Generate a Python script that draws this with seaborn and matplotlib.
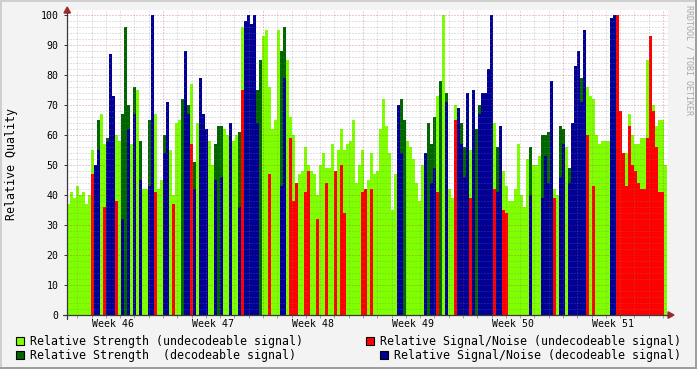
import numpy as np
import pandas as pd
import matplotlib
matplotlib.use("Agg")
import matplotlib.pyplot as plt
import seaborn as sns
from matplotlib.patches import Rectangle, Polygon
from matplotlib.lines import Line2D

# ---------------- data (one sample every ~5 hours) ----------------
strength = [37, 41, 39, 43, 40, 41, 37, 40, 55, 0,
            65, 67, 57, 59, 76, 60, 60, 58, 67, 96,
            70, 57, 76, 75, 58, 42, 42, 65, 95, 67,
            42, 45, 60, 67, 55, 40, 64, 65, 72, 69,
            70, 77, 51, 64, 75, 60, 55, 58, 50, 57,
            63, 63, 62, 60, 50, 58, 60, 61, 96, 80,
            80, 72, 75, 75, 85, 93, 95, 76, 62, 65,
            95, 88, 96, 85, 66, 60, 44, 47, 48, 56,
            50, 48, 47, 40, 50, 54, 49, 49, 57, 48,
            55, 62, 55, 57, 58, 65, 44, 50, 55, 38,
            45, 54, 47, 48, 62, 72, 63, 54, 35, 47,
            57, 72, 65, 58, 56, 52, 44, 38, 50, 43,
            64, 57, 66, 73, 78, 100, 74, 42, 39, 70,
            56, 64, 56, 60, 55, 59, 62, 70, 68, 62,
            70, 88, 64, 56, 56, 48, 43, 38, 38, 42,
            57, 40, 36, 52, 56, 50, 50, 53, 60, 60,
            61, 60, 42, 40, 63, 62, 56, 49, 57, 73,
            72, 79, 60, 76, 73, 72, 60, 57, 58, 58,
            58, 97, 97, 100, 61, 45, 54, 67, 60, 57,
            57, 59, 59, 85, 75, 70, 63, 65, 65, 50]

decoded = [0, 0, 0, 0, 0, 0, 0, 0, 0, 1,
           1, 0, 0, 1, 1, 1, 0, 0, 1, 1,
           1, 0, 1, 0, 1, 0, 0, 1, 1, 0,
           0, 0, 1, 1, 0, 0, 0, 0, 1, 1,
           1, 0, 1, 0, 1, 1, 1, 0, 0, 1,
           1, 1, 0, 0, 1, 0, 0, 1, 0, 1,
           1, 1, 1, 1, 1, 0, 0, 0, 0, 0,
           0, 1, 1, 0, 0, 0, 0, 0, 0, 0,
           0, 0, 0, 0, 0, 0, 0, 0, 0, 0,
           0, 0, 0, 0, 0, 0, 0, 0, 0, 0,
           0, 0, 0, 0, 0, 0, 0, 0, 0, 0,
           1, 1, 1, 0, 0, 0, 0, 0, 0, 1,
           1, 1, 1, 0, 1, 0, 1, 0, 0, 0,
           1, 1, 1, 1, 0, 1, 1, 1, 1, 1,
           1, 1, 0, 1, 1, 0, 0, 0, 0, 0,
           0, 0, 0, 0, 1, 0, 0, 0, 1, 1,
           1, 1, 0, 0, 1, 1, 0, 1, 1, 1,
           1, 1, 1, 0, 0, 0, 0, 0, 0, 0,
           0, 1, 1, 0, 0, 0, 0, 0, 0, 0,
           0, 0, 0, 0, 0, 0, 0, 0, 0, 0]

signal_noise = [0, 0, 0, 0, 0, 0, 0, 0, 47, 50,
                55, 0, 36, 58, 87, 73, 38, 0, 32, 0,
                62, 0, 67, 0, 45, 0, 0, 43, 100, 41,
                0, 0, 54, 71, 0, 37, 0, 0, 0, 88,
                67, 57, 42, 0, 79, 67, 62, 0, 0, 45,
                0, 46, 0, 0, 64, 0, 0, 36, 75, 98,
                100, 97, 100, 64, 0, 0, 0, 47, 0, 0,
                0, 43, 79, 0, 59, 38, 44, 0, 0, 41,
                48, 0, 0, 32, 0, 0, 44, 0, 0, 48,
                0, 50, 34, 0, 0, 0, 0, 0, 41, 42,
                0, 42, 0, 0, 0, 0, 0, 0, 0, 0,
                70, 54, 0, 0, 0, 0, 0, 0, 0, 54,
                0, 44, 49, 41, 0, 0, 71, 0, 0, 65,
                69, 57, 46, 74, 39, 75, 0, 67, 74, 74,
                82, 100, 42, 41, 63, 35, 34, 0, 0, 0,
                0, 0, 0, 0, 40, 0, 0, 0, 39, 53,
                44, 78, 39, 0, 46, 57, 0, 44, 64, 83,
                88, 71, 95, 60, 0, 43, 0, 0, 0, 0,
                0, 99, 100, 100, 68, 54, 43, 63, 50, 48,
                44, 42, 42, 59, 93, 68, 56, 41, 41, 0]

week_labels = ["Week 46", "Week 47", "Week 48", "Week 49", "Week 50", "Week 51"]
legend_labels = ["Relative Strength (undecodeable signal)",
                 "Relative Signal/Noise (undecodeable signal)",
                 "Relative Strength  (decodeable signal)",
                 "Relative Signal/Noise (decodeable signal)"]
y_label = "Relative Quality"
credit = "RRDTOOL / TOBI OETIKER"

SAMPLE_DAYS = 42 / 200          # length of one sample, in days
WEEK46_START = -0.28            # Monday of week 46, days from graph start
SPAN_DAYS = 42 * 601 / 600

colors = {"str_u": "#80ff00", "str_d": "#006600",
          "snr_u": "#ff0000", "snr_d": "#000096"}

# ---------------- figure ----------------
sns.set_theme(style="white")
plt.rcParams["font.family"] = ["DejaVu Sans Mono"]

W, H = 697, 369
fig = plt.figure(figsize=(W / 100, H / 100), dpi=100, facecolor="#f3f3f3")
fx = lambda px: px / W
fy = lambda py: 1 - py / H

ax = fig.add_axes([fx(67), fy(315), 601 / W, 305 / H])
ax.set_facecolor("white")

n = len(strength)
t = (np.arange(n) + 0.5) * SAMPLE_DAYS
dec = np.array(decoded).astype(bool)
df = pd.DataFrame({
    "t": t,
    "strength": strength,
    "skind": np.where(dec, "str_d", "str_u"),
    "snr": signal_noise,
    "nkind": np.where(dec, "snr_d", "snr_u"),
})

sns.barplot(data=df, x="t", y="strength", hue="skind", palette=colors,
            native_scale=True, orient="x", width=1.0, dodge=False,
            saturation=1, errorbar=None, legend=False, linewidth=0,
            antialiased=False, ax=ax)
dsn = df[df["snr"] > 0]
sns.barplot(data=dsn, x="t", y="snr", hue="nkind", palette=colors,
            native_scale=True, orient="x", width=0.67, dodge=False,
            saturation=1, errorbar=None, legend=False, linewidth=0,
            antialiased=False, ax=ax)

ax.set_xlim(0, SPAN_DAYS)
ax.set_ylim(0, 305 / 3)
ax.set_xlabel("")
ax.set_ylabel("")
for s in ax.spines.values():
    s.set_visible(False)

# grid (drawn over the data, like rrdtool)
dots = (0, (1, 2))
for v in range(2, 101, 2):
    if v % 10:
        ax.axhline(v, color="#808080", alpha=0.45, lw=0.72, ls=dots, zorder=3)
    else:
        ax.axhline(v, color="#b03030", alpha=0.5, lw=0.72, ls=dots, zorder=3)
days = WEEK46_START + np.arange(0, 44)
days = days[(days > 0) & (days < SPAN_DAYS)]
for d in days:
    major = abs(((d - WEEK46_START) % 7)) < 1e-6
    ax.axvline(d, color="#b03030" if major else "#808080",
               alpha=0.5 if major else 0.45, lw=0.72, ls=dots, zorder=3)

# ticks
ax.set_yticks(range(0, 101, 10))
ax.tick_params(axis="y", length=2.5, width=0.72, color="#3a3a3a", pad=3.5,
               labelsize=7.1, labelcolor="#000000", left=True)
label_pos = WEEK46_START + 3.5 + 7 * np.arange(len(week_labels))
ax.set_xticks(label_pos, week_labels)
ax.set_xticks(days, minor=True)
ax.tick_params(axis="x", which="major", length=0, pad=3, labelsize=7.1,
               labelcolor="#000000")
ax.tick_params(axis="x", which="minor", length=2.5, width=0.72,
               color="#a0a0a0", bottom=True)
for tk, d in zip(ax.xaxis.get_minor_ticks(), days):
    if abs(((d - WEEK46_START) % 7)) < 1e-6:
        tk.tick1line.set_color("#c04040")

# axis lines with arrows
axis_col = "#3a3a3a"
arrow_col = "#a02828"
fig.add_artist(Line2D([fx(67), fx(67)], [fy(319), fy(12)], color=axis_col,
                      lw=0.9, transform=fig.transFigure))
fig.add_artist(Line2D([fx(63), fx(669)], [fy(315), fy(315)], color=axis_col,
                      lw=0.9, transform=fig.transFigure))
fig.add_artist(Polygon([[fx(64), fy(13)], [fx(70.5), fy(13)], [fx(67.2), fy(7)]],
                       closed=True, color=arrow_col, transform=fig.transFigure))
fig.add_artist(Polygon([[fx(668), fy(311.8)], [fx(668), fy(318.3)], [fx(674), fy(315)]],
                       closed=True, color=arrow_col, transform=fig.transFigure))

# border
fig.add_artist(Rectangle((0, fy(2)), 1, 2 / H, color="#cfcfcf", lw=0,
                         transform=fig.transFigure))
fig.add_artist(Rectangle((0, 0), 2 / W, 1, color="#cfcfcf", lw=0,
                         transform=fig.transFigure))
fig.add_artist(Rectangle((0, 0), 1, 2 / H, color="#9e9e9e", lw=0,
                         transform=fig.transFigure))
fig.add_artist(Rectangle((1 - 2 / W, 0), 2 / W, 1, color="#9e9e9e", lw=0,
                         transform=fig.transFigure))

# texts
fig.text(fx(12), fy(164), y_label, rotation=90, ha="center", va="center",
         fontsize=8.35, color="#000000")
fig.text(fx(688.5), fy(5), credit, rotation=270, ha="center", va="top",
         fontsize=6, color="#a8a8a8")

# legend
leg_colors = [colors["str_u"], colors["snr_u"], colors["str_d"], colors["snr_d"]]
leg_box_x = [15.5, 366, 15.5, 380]
leg_y = [341, 341, 355, 355]
for lab, c, bx, by in zip(legend_labels, leg_colors, leg_box_x, leg_y):
    fig.add_artist(Rectangle((fx(bx), fy(by + 4.3)), 8.3 / W, 8.3 / H,
                             facecolor=c, edgecolor="#000000", lw=0.8,
                             transform=fig.transFigure))
    fig.text(fx(bx + 14.5), fy(by), lab, ha="left", va="center",
             fontsize=8.35, color="#000000")

fig.savefig("out.png", dpi=100, facecolor=fig.get_facecolor())
